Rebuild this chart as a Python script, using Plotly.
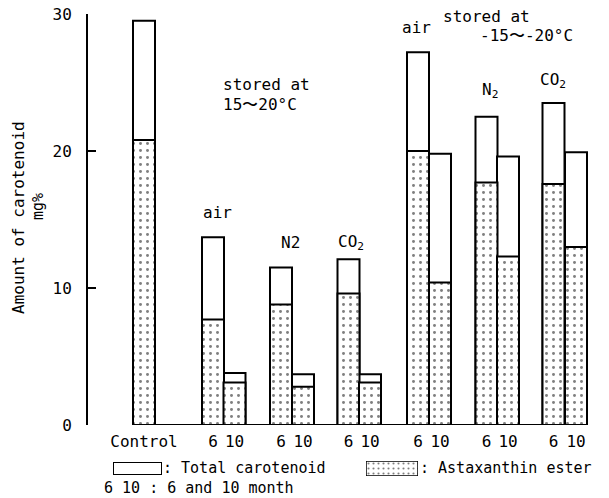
import plotly.graph_objects as go

# ---------------- data ----------------
categories = ["Control",
              "air 15-20 6", "air 15-20 10",
              "N2 15-20 6", "N2 15-20 10",
              "CO2 15-20 6", "CO2 15-20 10",
              "air -15--20 6", "air -15--20 10",
              "N2 -15--20 6", "N2 -15--20 10",
              "CO2 -15--20 6", "CO2 -15--20 10"]
tick_labels = ["Control", "6", "10", "6", "10", "6", "10",
               "6", "10", "6", "10", "6", "10"]
total_carotenoid = [29.5, 13.7, 3.8, 11.5, 3.7, 12.1, 3.7,
                    27.2, 19.8, 22.5, 19.6, 23.5, 19.9]
astaxanthin_ester = [20.8, 7.7, 3.1, 8.8, 2.8, 9.6, 3.1,
                     20.0, 10.4, 17.7, 12.3, 17.6, 13.0]
y_ticks = [0, 10, 20, 30]

# ---------------- layout constants (pixel-like units) ----------------
W, H = 609, 498
L, R, T, B = 88, 9, 14, 3
PLOT_BOTTOM_PX = 425
X_POS = [144, 213, 234.5, 281, 303, 348.5, 370, 418, 440, 486.5, 508, 553.5, 576]
BAR_W = 22
FONT = "DejaVu Sans Mono"
PX_PER_UNIT = (PLOT_BOTTOM_PX - T) / 30.0


def py2y(py):
    return (PLOT_BOTTOM_PX - py) / PX_PER_UNIT


def py2paper(py):
    return (H - B - py) / (H - B - T)


def px2paper(px):
    return (px - L) / (W - L - R)


DOTS = dict(shape=".", fgcolor="black", bgcolor="white", size=7, solidity=0.14)

fig = go.Figure()

fig.add_trace(go.Bar(
    x=X_POS, y=total_carotenoid, width=BAR_W, name="Total carotenoid",
    marker=dict(color="white", line=dict(color="black", width=2)),
    showlegend=False, hovertext=categories,
))
fig.add_trace(go.Bar(
    x=X_POS, y=astaxanthin_ester, width=BAR_W, name="Astaxanthin ester",
    marker=dict(color="white", line=dict(color="black", width=2), pattern=DOTS),
    showlegend=False, hovertext=categories,
))

# legend swatches as tiny subplots
fig.add_trace(go.Bar(
    x=[0], y=[1], width=1, xaxis="x2", yaxis="y2", cliponaxis=False,
    marker=dict(color="white", line=dict(color="black", width=2)),
    showlegend=False, hoverinfo="skip"))
fig.add_trace(go.Bar(
    x=[0], y=[1], width=1, xaxis="x3", yaxis="y3", cliponaxis=False,
    marker=dict(color="white", line=dict(color="black", width=1.5),
                pattern=dict(DOTS, size=5)),
    showlegend=False, hoverinfo="skip"))

main_bottom = py2paper(PLOT_BOTTOM_PX)

fig.update_layout(
    width=W, height=H,
    margin=dict(l=L, r=R, t=T, b=B, autoexpand=False),
    paper_bgcolor="white", plot_bgcolor="white",
    barmode="overlay", showlegend=False,
    font=dict(family=FONT, size=16, color="black"),
    xaxis=dict(range=[L, W - R], domain=[0, 1], anchor="y", automargin=False,
               tickvals=X_POS, ticktext=tick_labels, ticks="",
               ticklabelstandoff=5,
               showline=False, showgrid=False, zeroline=False,
               tickfont=dict(family=FONT, size=16, color="black")),
    yaxis=dict(range=[0, 30], domain=[main_bottom, 1], anchor="x", automargin=False,
               tickvals=y_ticks, ticks="inside", ticklen=8, tickwidth=2,
               tickcolor="black", showline=True, linewidth=2, linecolor="black",
               ticklabelstandoff=11,
               showgrid=False, zeroline=False,
               tickfont=dict(family=FONT, size=16, color="black")),
    xaxis2=dict(domain=[px2paper(113), px2paper(162)], range=[-0.5, 0.5],
                anchor="y2", visible=False),
    yaxis2=dict(domain=[py2paper(475), py2paper(462)], range=[0, 1],
                anchor="x2", visible=False),
    xaxis3=dict(domain=[px2paper(366), px2paper(418)], range=[-0.5, 0.5],
                anchor="y3", visible=False),
    yaxis3=dict(domain=[py2paper(476), py2paper(461)], range=[0, 1],
                anchor="x3", visible=False),
)

# baseline from first bar to last bar
fig.add_shape(type="line", xref="x", yref="y",
              x0=X_POS[0] - BAR_W / 2 - 1, x1=X_POS[-1] + BAR_W / 2 + 1,
              y0=0, y1=0, line=dict(color="black", width=2))


def label(text, x, py, anchor="center", size=16):
    fig.add_annotation(text=text, x=x, y=py2y(py), xref="x", yref="y",
                       xanchor=anchor, yanchor="middle", showarrow=False,
                       font=dict(family=FONT, size=size, color="black"))


# group labels
label("air", 217, 212)
label("N2", 290, 242)
label("CO<sub>2</sub>", 351, 242)
label("stored at", 221, 84, anchor="left")
label("15〜20°C", 221, 104, anchor="left")
label("air", 416, 27)
label("stored at", 441, 16, anchor="left")
label("-15〜-20°C", 478, 35, anchor="left")
label("N<sub>2</sub>", 490, 90)
label("CO<sub>2</sub>", 553, 80)


def paper_label(text, px, py, anchor="left", size=15):
    fig.add_annotation(text=text, x=px2paper(px), y=py2paper(py),
                       xref="paper", yref="paper", xanchor=anchor,
                       yanchor="middle", showarrow=False,
                       font=dict(family=FONT, size=size, color="black"))


paper_label(": Total carotenoid", 161, 468)
paper_label(": Astaxanthin ester", 418, 468)
paper_label("6 10 : 6 and 10 month", 102, 488)

# y-axis title
fig.add_annotation(text="Amount of carotenoid", x=px2paper(18), y=py2y(218),
                   xref="paper", yref="y", xanchor="center", yanchor="middle",
                   textangle=-90, showarrow=False,
                   font=dict(family=FONT, size=16, color="black"))
fig.add_annotation(text="mg%", x=px2paper(38), y=py2y(207),
                   xref="paper", yref="y", xanchor="center", yanchor="middle",
                   textangle=-90, showarrow=False,
                   font=dict(family=FONT, size=15, color="black"))

fig.write_html("out.html", config={"displayModeBar": False},
               post_script="document.body.style.margin='0';"
                           "document.body.style.overflow='hidden';")
